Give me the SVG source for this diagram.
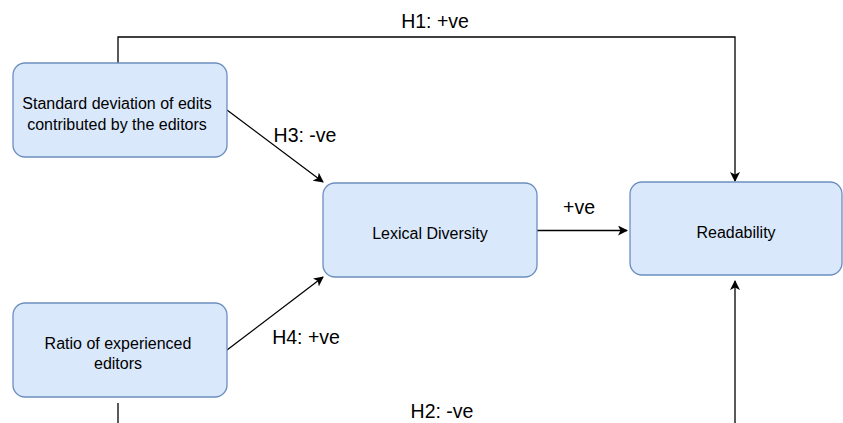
<svg xmlns="http://www.w3.org/2000/svg" width="843" height="423" viewBox="0 0 843 423">
<defs>
<marker id="arr" viewBox="0 0 10 10" refX="9" refY="5" markerWidth="10" markerHeight="10" markerUnits="userSpaceOnUse" orient="auto">
<path d="M0,0 L10,5 L0,10 L2.5,5 Z" fill="#000"/>
</marker>
</defs>
<style>
.node{fill:#dae8fc;stroke:#6c8ebf;stroke-width:1.3}
.nt{font-family:"Liberation Sans",Arial,sans-serif;font-size:16px;fill:#000;text-anchor:middle}
.lbl{font-family:"Liberation Sans",Arial,sans-serif;font-size:19.5px;fill:#000;text-anchor:middle}
.edge{fill:none;stroke:#000;stroke-width:1.3}
</style>
<rect width="843" height="423" fill="#fff"/>
<g id="connectors">
<polyline class="edge" points="118,68 118,37 735,37 735,181" marker-end="url(#arr)"/>
<line class="edge" x1="118" y1="403" x2="118" y2="423"/>
<line class="edge" x1="735" y1="423" x2="735" y2="281" marker-end="url(#arr)"/>
<line class="edge" x1="227" y1="110" x2="323" y2="182" marker-end="url(#arr)"/>
<line class="edge" x1="227" y1="350" x2="323" y2="277" marker-end="url(#arr)"/>
<line class="edge" x1="537" y1="230.5" x2="627" y2="230.5" marker-end="url(#arr)"/>
<text class="lbl" x="435" y="28">H1: +ve</text>
<text class="lbl" x="442" y="418">H2: -ve</text>
<text class="lbl" x="305" y="142">H3: -ve</text>
<text class="lbl" x="306" y="344">H4: +ve</text>
<text class="lbl" x="579" y="214">+ve</text>
</g>
<g id="node-std">
<rect class="node" x="13" y="63" width="214" height="94" rx="12"/>
<text class="nt" x="117" y="109">Standard deviation of edits</text>
<text class="nt" x="117" y="130">contributed by the editors</text>
</g>
<g id="node-ratio">
<rect class="node" x="13" y="303" width="214" height="94" rx="12"/>
<text class="nt" x="118" y="349">Ratio of experienced</text>
<text class="nt" x="118" y="369">editors</text>
</g>
<g id="node-lexical">
<rect class="node" x="323" y="183" width="214" height="94" rx="12"/>
<text class="nt" x="430" y="239">Lexical Diversity</text>
</g>
<g id="node-readability">
<rect class="node" x="630" y="182" width="212" height="93" rx="12"/>
<text class="nt" x="736" y="238">Readability</text>
</g>
</svg>
